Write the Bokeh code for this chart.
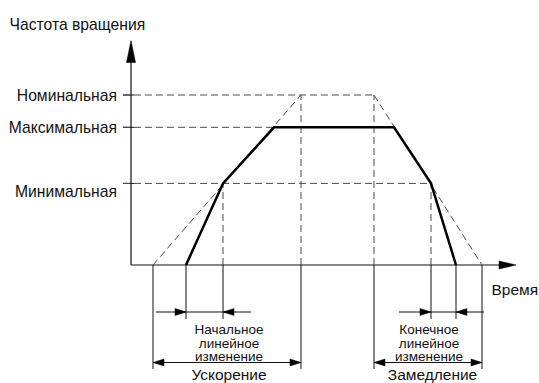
from bokeh.plotting import figure
from bokeh.models import Range1d
from bokeh.core.properties import value
from bokeh.embed import file_html
from bokeh.resources import INLINE

# ---------------- data ----------------
level_labels = ["Номинальная", "Максимальная", "Минимальная"]
level_speeds = [100, 81, 48]          # % of nominal speed
NOM, MAX, MIN = level_speeds

# actual speed profile (time, s / speed, %)
profile_t = [5.5, 9.2, 14.3, 26.3, 30.0, 32.5]
profile_s = [0, MIN, MAX, MAX, MIN, 0]

# nominal acceleration / deceleration ramps (0 -> nominal)
acc_t = [2.2, 17.0]
dec_t = [24.3, 35.1]
acc_s = [0, NOM]
dec_s = [NOM, 0]

axis_t_end = 38.5
axis_s_end = 132

y_title = "Частота вращения"
x_title = "Время"
acc_label = "Ускорение"
dec_label = "Замедление"
start_lin = ["Начальное", "линейное", "изменение"]
end_lin = ["Конечное", "линейное", "изменение"]

# ---------------- layout ----------------
W, H = 539, 383
PX_T, PX_S = 10.0, 1.7      # pixels per unit
OX, OY = 130.5, 264.5        # origin in canvas pixels

def dx(px):
    return px / PX_T

def dy(px):
    return px / PX_S

x0 = -OX / PX_T
y1 = OY / PX_S
p = figure(width=W, height=H, output_backend="svg", toolbar_location=None,
           x_range=Range1d(x0, x0 + W / PX_T),
           y_range=Range1d(y1 - H / PX_S, y1),
           min_border=0, outline_line_color=None)
p.axis.visible = False
p.grid.visible = False
p.background_fill_color = "white"
p.border_fill_color = "white"

FONT = value("Liberation Sans")
DASH = "7 4"
GREY = "#4a4a4a"
INK = "#111111"


def head(tip_t, tip_s, direction, length_px, half_px):
    if direction == "up":
        return ([tip_t, tip_t - dx(half_px), tip_t + dx(half_px)],
                [tip_s, tip_s - dy(length_px), tip_s - dy(length_px)])
    if direction == "right":
        return ([tip_t, tip_t - dx(length_px), tip_t - dx(length_px)],
                [tip_s, tip_s + dy(half_px), tip_s - dy(half_px)])
    return ([tip_t, tip_t + dx(length_px), tip_t + dx(length_px)],
            [tip_s, tip_s + dy(half_px), tip_s - dy(half_px)])

heads_x, heads_y = [], []

def add_head(*a):
    hx, hy = head(*a)
    heads_x.append(hx)
    heads_y.append(hy)

# axes
p.line([0, 0], [0, axis_s_end - dy(10)], line_color=INK, line_width=1.2)
p.line([0, axis_t_end - dx(8)], [0, 0], line_color=INK, line_width=1.2)
add_head(0, axis_s_end, "up", 22, 4.5)
add_head(axis_t_end, 0, "right", 17, 4)

# level ticks on the speed axis
p.segment(x0=[-dx(8)] * 3, x1=[dx(3)] * 3, y0=level_speeds, y1=level_speeds,
          line_color=INK, line_width=1)

# dashed level lines
p.segment(x0=[-dx(8)] * 3, x1=[dec_t[0], profile_t[2], profile_t[4]],
          y0=level_speeds, y1=level_speeds,
          line_color=GREY, line_width=1, line_dash=DASH)

# dashed verticals
vx = [acc_t[1], dec_t[0], profile_t[1], profile_t[4]]
vtop = [NOM, NOM, MIN, MIN]
p.segment(x0=vx, x1=vx, y0=[0] * 4, y1=vtop,
          line_color=GREY, line_width=1, line_dash=DASH)

# dashed nominal ramps
p.line(acc_t, acc_s, line_color=GREY, line_width=1, line_dash=DASH)
p.line(dec_t, dec_s, line_color=GREY, line_width=1, line_dash=DASH)

# actual profile
p.line(profile_t, profile_s, line_color="black", line_width=2.5,
       line_join="miter")

# extension lines below the time axis
long_x = [acc_t[0], acc_t[1], dec_t[0], dec_t[1]]
p.segment(x0=long_x, x1=long_x, y0=[0] * 4, y1=[-dy(104)] * 4,
          line_color=INK, line_width=1)
short_x = [profile_t[0], profile_t[1], profile_t[4], profile_t[5]]
p.segment(x0=short_x, x1=short_x, y0=[0] * 4, y1=[-dy(54)] * 4,
          line_color=INK, line_width=1)

# linear-change dimension lines
lin_s = -dy(47)
p.segment(x0=[profile_t[0] - dx(30), profile_t[4] - dx(32)],
          x1=[profile_t[1] + dx(28), profile_t[5] + dx(28)],
          y0=[lin_s] * 2, y1=[lin_s] * 2, line_color=INK, line_width=1)
add_head(profile_t[0], lin_s, "right", 11, 3.5)
add_head(profile_t[1], lin_s, "left", 11, 3.5)
add_head(profile_t[4], lin_s, "right", 11, 3.5)
add_head(profile_t[5], lin_s, "left", 11, 3.5)

# acceleration / deceleration dimension lines
dim_s = -dy(97.5)
p.segment(x0=[acc_t[0], dec_t[0]], x1=[acc_t[1], dec_t[1]],
          y0=[dim_s] * 2, y1=[dim_s] * 2, line_color=INK, line_width=1)
add_head(acc_t[0], dim_s, "left", 11, 3.5)
add_head(acc_t[1], dim_s, "right", 11, 3.5)
add_head(dec_t[0], dim_s, "left", 11, 3.5)
add_head(dec_t[1], dim_s, "right", 11, 3.5)

p.patches(heads_x, heads_y, fill_color="black", line_color="black",
          line_width=0.5)

# ---------------- texts ----------------
p.text(x=[dx(9 - OX)], y=[dy(OY - 24)], text=[y_title], text_font=FONT,
       text_font_size="15.7px", text_color=INK, text_baseline="alphabetic",
       text_align="left")
p.text(x=[-dx(14)] * 3, y=level_speeds, text=level_labels, text_font=FONT,
       text_font_size="15.7px", text_color=INK, text_baseline="alphabetic",
       text_align="right", y_offset=[0, 0, 8])
p.text(x=[dx(491 - OX)], y=[-dy(24)], text=[x_title], text_font=FONT,
       text_font_size="15.5px", text_color=INK, text_baseline="alphabetic",
       text_align="left")

small_base = [-dy(64), -dy(78), -dy(91)]
p.text(x=[dx(228.5 - OX)] * 3, y=small_base, text=start_lin, text_font=FONT,
       text_font_size="13.5px", text_color=INK, text_baseline="alphabetic",
       text_align="center")
p.text(x=[dx(428.5 - OX)] * 3, y=small_base, text=end_lin, text_font=FONT,
       text_font_size="13.5px", text_color=INK, text_baseline="alphabetic",
       text_align="center")
p.text(x=[dx(228.5 - OX), dx(432 - OX)], y=[-dy(100.5)] * 2,
       text=[acc_label, dec_label], text_font=FONT, text_font_size="15.5px",
       text_color=INK, text_baseline="top", text_align="center")

open("out.html", "w").write(file_html(p, INLINE))
